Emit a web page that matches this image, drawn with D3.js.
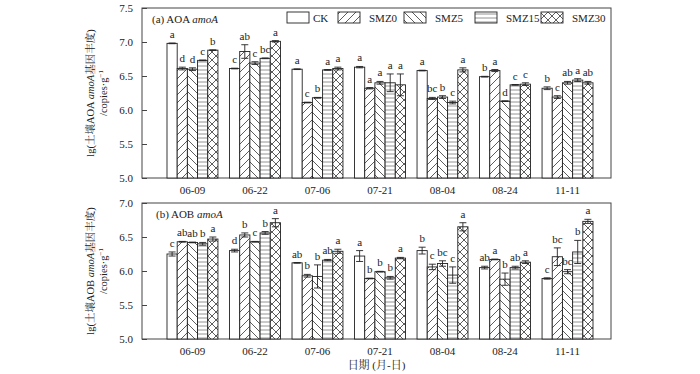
<!DOCTYPE html>
<html>
<head>
<meta charset="utf-8">
<script src="https://cdn.jsdelivr.net/npm/d3@7"></script>
<style>
  html, body { margin: 0; padding: 0; background: #fff; }
  svg { display: block; font-family: "Liberation Serif", "Noto Serif CJK SC", "Noto Sans CJK SC", serif; }
</style>
</head>
<body>
<svg id="chart" width="700" height="374"></svg>
<script>
// ── DATA ───────────────────────────────────────────────────────────────────
const dates  = ['06-09', '06-22', '07-06', '07-21', '08-04', '08-24', '11-11'];
const series = ['CK', 'SMZ0', 'SMZ5', 'SMZ15', 'SMZ30'];

// (a) AOA amoA — mean lg copies per treatment, by date
const aoaMean = {
  CK:    [6.98, 6.61, 6.60, 6.63, 6.58, 6.49, 6.32],
  SMZ0:  [6.61, 6.86, 6.11, 6.32, 6.17, 6.58, 6.19],
  SMZ5:  [6.60, 6.69, 6.18, 6.40, 6.19, 6.13, 6.40],
  SMZ15: [6.73, 6.76, 6.59, 6.40, 6.11, 6.37, 6.44],
  SMZ30: [6.88, 7.01, 6.61, 6.37, 6.59, 6.38, 6.40]
};
const aoaErr = {
  CK:    [0.005, 0.005, 0.005, 0.01, 0.005, 0.005, 0.02],
  SMZ0:  [0.02, 0.10, 0.005, 0.01, 0.015, 0.015, 0.02],
  SMZ5:  [0.02, 0.02, 0.005, 0.02, 0.02, 0.005, 0.02],
  SMZ15: [0.005, 0.005, 0.005, 0.13, 0.02, 0.005, 0.02],
  SMZ30: [0.005, 0.01, 0.02, 0.16, 0.03, 0.02, 0.02]
};
const aoaSig = {
  CK:    ['a', 'c', 'a', 'a', 'a', 'b', 'b'],
  SMZ0:  ['d', 'ab', 'c', 'a', 'bc', 'a', 'c'],
  SMZ5:  ['d', 'c', 'b', 'a', 'b', 'd', 'ab'],
  SMZ15: ['c', 'bc', 'a', 'a', 'c', 'c', 'a'],
  SMZ30: ['b', 'a', 'a', 'a', 'a', 'c', 'ab']
};

// (b) AOB amoA
const aobMean = {
  CK:    [6.25, 6.30, 6.12, 6.22, 6.30, 6.05, 5.89],
  SMZ0:  [6.43, 6.53, 5.93, 5.89, 6.06, 6.17, 6.21],
  SMZ5:  [6.42, 6.43, 5.92, 5.99, 6.11, 5.88, 5.99],
  SMZ15: [6.40, 6.56, 6.16, 5.90, 5.94, 6.05, 6.28],
  SMZ30: [6.47, 6.71, 6.29, 6.19, 6.65, 6.13, 6.73]
};
const aobErr = {
  CK:    [0.03, 0.02, 0.005, 0.08, 0.05, 0.02, 0.01],
  SMZ0:  [0.005, 0.03, 0.02, 0.005, 0.04, 0.005, 0.13],
  SMZ5:  [0.005, 0.005, 0.17, 0.005, 0.04, 0.09, 0.03],
  SMZ15: [0.02, 0.02, 0.01, 0.02, 0.12, 0.02, 0.17],
  SMZ30: [0.03, 0.06, 0.03, 0.01, 0.06, 0.02, 0.03]
};
const aobSig = {
  CK:    ['c', 'd', 'ab', 'a', 'b', 'ab', 'c'],
  SMZ0:  ['ab', 'b', 'b', 'b', 'c', 'a', 'bc'],
  SMZ5:  ['ab', 'c', 'b', 'b', 'bc', 'b', 'bc'],
  SMZ15: ['b', 'b', 'ab', 'b', 'c', 'ab', 'b'],
  SMZ30: ['a', 'a', 'a', 'a', 'a', 'a', 'a']
};

const aoaTicks = [5.0, 5.5, 6.0, 6.5, 7.0, 7.5];
const aobTicks = [5.0, 5.5, 6.0, 6.5, 7.0];

// ── LAYOUT ─────────────────────────────────────────────────────────────────
const X0 = 142, X1 = 611;
const INK = '#222', AXIS = '#444';

const svg  = d3.select('#chart');
const defs = svg.append('defs');

// hatch fills
function hatch(id, size, d, stroke, sw) {
  const p = defs.append('pattern')
    .attr('id', id)
    .attr('patternUnits', 'userSpaceOnUse')
    .attr('width', size).attr('height', size);
  p.append('rect').attr('width', size).attr('height', size).attr('fill', '#fff');
  p.append('path').attr('d', d).attr('stroke', stroke).attr('stroke-width', sw).attr('fill', 'none');
}
hatch('h-fwd',   8, 'M0,8 L8,0 M-2,2 L2,-2 M6,10 L10,6', '#333', 0.8);
hatch('h-back',  8, 'M0,0 L8,8 M-2,6 L2,10 M6,-2 L10,2', '#333', 0.8);
hatch('h-horiz', 4, 'M0,2 L4,2', '#777', 0.8);
hatch('h-cross', 8, 'M0,8 L8,0 M-2,2 L2,-2 M6,10 L10,6 M0,0 L8,8 M-2,6 L2,10 M6,-2 L10,2', '#333', 0.8);

const fills = { CK: '#fff', SMZ0: 'url(#h-fwd)', SMZ5: 'url(#h-back)', SMZ15: 'url(#h-horiz)', SMZ30: 'url(#h-cross)' };

const x = d3.scaleBand().domain(dates).range([167, 593]).paddingInner(0.185).paddingOuter(0);
const xs = d3.scaleBand().domain(series).range([0, x.bandwidth()]).padding(0);

// ── PANEL ──────────────────────────────────────────────────────────────────
function drawPanel(cfg) {
  const y = d3.scaleLinear().domain(cfg.domain).range([cfg.bottom, cfg.top]);
  const g = svg.append('g');

  // frame
  g.append('rect')
    .attr('x', X0).attr('y', cfg.top)
    .attr('width', X1 - X0).attr('height', cfg.bottom - cfg.top)
    .attr('fill', 'none').attr('stroke', AXIS).attr('stroke-width', 1);

  // y axis, ticks pointing inward
  const ay = g.append('g')
    .attr('transform', `translate(${X0},0)`)
    .call(d3.axisRight(y).tickValues(cfg.ticks).tickFormat(d3.format('.1f')).tickSize(5).tickPadding(-20));
  ay.select('.domain').remove();
  ay.selectAll('line').attr('stroke', AXIS);
  ay.selectAll('text')
    .attr('text-anchor', 'end').attr('x', -9)
    .attr('font-size', 11).attr('fill', INK)
    .style('font-family', 'Liberation Serif, serif');

  // x labels
  const ax = g.append('g')
    .attr('transform', `translate(0,${cfg.bottom})`)
    .call(d3.axisBottom(x).tickSize(0).tickPadding(8));
  ax.select('.domain').remove();
  ax.selectAll('text').attr('font-size', 11).attr('fill', INK)
    .style('font-family', 'Liberation Serif, serif');

  // bars
  const rows = [];
  series.forEach(s => dates.forEach((d, i) => rows.push({
    s, d, v: cfg.mean[s][i], e: cfg.err[s][i], sig: cfg.sig[s][i]
  })));

  const bx = r => x(r.d) + xs(r.s);
  const bw = xs.bandwidth();

  g.selectAll('rect.bar').data(rows).enter().append('rect')
    .attr('class', 'bar')
    .attr('x', bx).attr('y', r => y(r.v))
    .attr('width', bw).attr('height', r => cfg.bottom - y(r.v))
    .attr('fill', r => fills[r.s])
    .attr('stroke', INK).attr('stroke-width', 0.9);

  // error bars
  const eb = g.selectAll('g.err').data(rows).enter().append('g').attr('class', 'err')
    .attr('stroke', INK).attr('stroke-width', 0.9);
  eb.append('line')
    .attr('x1', r => bx(r) + bw / 2).attr('x2', r => bx(r) + bw / 2)
    .attr('y1', r => y(r.v + r.e)).attr('y2', r => y(r.v - r.e));
  eb.append('line')
    .attr('x1', r => bx(r) + bw / 2 - 3.5).attr('x2', r => bx(r) + bw / 2 + 3.5)
    .attr('y1', r => y(r.v + r.e)).attr('y2', r => y(r.v + r.e));
  eb.append('line')
    .attr('x1', r => bx(r) + bw / 2 - 3.5).attr('x2', r => bx(r) + bw / 2 + 3.5)
    .attr('y1', r => y(r.v - r.e)).attr('y2', r => y(r.v - r.e));

  // significance letters
  g.selectAll('text.sig').data(rows).enter().append('text')
    .attr('class', 'sig')
    .attr('x', r => bx(r) + bw / 2)
    .attr('y', r => y(r.v + r.e) - 5)
    .attr('text-anchor', 'middle')
    .attr('font-size', 11).attr('fill', INK)
    .text(r => r.sig);

  // panel title
  const t = g.append('text')
    .attr('x', cfg.titleX).attr('y', cfg.top + 15)
    .attr('font-size', 11).attr('fill', INK);
  t.append('tspan').text(cfg.title + ' ');
  t.append('tspan').attr('font-style', 'italic').text('amoA');

  // y label (two lines, rotated)
  const cy = (cfg.top + cfg.bottom) / 2;
  const yl = g.append('text')
    .attr('transform', `translate(94,${cy}) rotate(-90)`)
    .attr('text-anchor', 'middle').attr('font-size', 10.5).attr('fill', INK);
  yl.append('tspan').text(`lg(土壤${cfg.title.slice(4)} `);
  yl.append('tspan').attr('font-style', 'italic').text('amoA');
  yl.append('tspan').text('基因丰度)');

  const yl2 = g.append('text')
    .attr('transform', `translate(107,${cy}) rotate(-90)`)
    .attr('text-anchor', 'middle').attr('font-size', 10.5).attr('fill', INK);
  yl2.append('tspan').text('/copies·g');
  yl2.append('tspan').attr('font-size', 7).attr('dy', -4).text('−1');

  return g;
}

drawPanel({ top: 8,   bottom: 178, domain: [5, 7.5], ticks: aoaTicks,
            mean: aoaMean, err: aoaErr, sig: aoaSig, title: '(a) AOA', titleX: 152 });
drawPanel({ top: 203, bottom: 339, domain: [5, 7],   ticks: aobTicks,
            mean: aobMean, err: aobErr, sig: aobSig, title: '(b) AOB', titleX: 156 });

// ── LEGEND ─────────────────────────────────────────────────────────────────
const legendX = { CK: 287, SMZ0: 338, SMZ5: 404, SMZ15: 475, SMZ30: 541 };
const lg = svg.append('g');
series.forEach(s => {
  lg.append('rect')
    .attr('x', legendX[s]).attr('y', 12).attr('width', 22).attr('height', 11)
    .attr('fill', fills[s]).attr('stroke', INK).attr('stroke-width', 0.9);
  lg.append('text')
    .attr('x', legendX[s] + (s === 'CK' ? 26 : 31)).attr('y', 21.5)
    .attr('font-size', 11).attr('fill', INK).text(s);
});

// x axis title
svg.append('text')
  .attr('x', (X0 + X1) / 2).attr('y', 369)
  .attr('text-anchor', 'middle').attr('font-size', 11).attr('fill', INK)
  .text('日期 (月-日)');
</script>
</body>
</html>
